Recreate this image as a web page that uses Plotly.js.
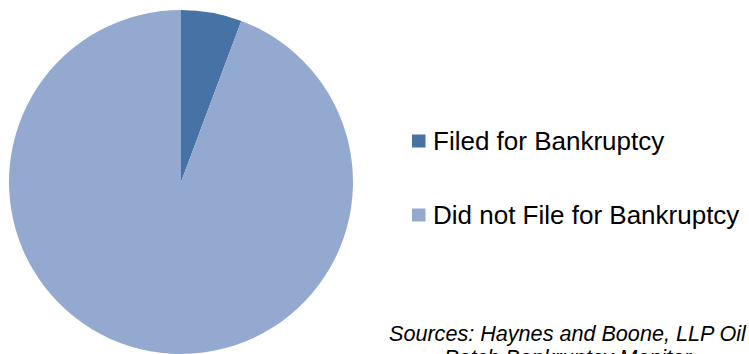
<!DOCTYPE html>
<html>
<head>
<meta charset="utf-8">
<script src="https://cdn.plot.ly/plotly-3.0.1.min.js"></script>
<style>html,body{margin:0;padding:0;background:#fff;}#chart{width:749px;height:354px;}</style>
</head>
<body>
<div id="chart"></div>
<script>
const labels = ["Filed for Bankruptcy", "Did not File for Bankruptcy"];
const values = [5.7, 94.3];
const colors = ["#4672A6", "#94A9CF"];
const sourceLines = ["Sources: Haynes and Boone, LLP Oil", "Patch Bankruptcy Monitor"];

const W = 749, H = 354;
const px = x => x / W;
const py = y => (H - y) / H;

const legendRowsY = [141, 215];
const sourceRowsY = [333, 357];
const shapes = labels.map((l, i) => ({
  type: "rect", xref: "paper", yref: "paper",
  x0: px(412), x1: px(425.5),
  y0: py(legendRowsY[i] - 6.5), y1: py(legendRowsY[i] + 6.5),
  fillcolor: colors[i], line: {width: 0}
}));
const annotations = labels.map((l, i) => ({
  text: l, xref: "paper", yref: "paper",
  x: px(431), y: py(legendRowsY[i]), xanchor: "left", yanchor: "middle",
  showarrow: false, font: {family: "Liberation Sans, Arial, sans-serif", size: 26, color: "#000"}
}));
sourceLines.forEach((s, i) => annotations.push({
  text: "<i>" + s + "</i>", xref: "paper", yref: "paper",
  x: px(568), y: py(sourceRowsY[i]), xanchor: "center", yanchor: "middle", align: "center",
  showarrow: false, font: {family: "Liberation Sans, Arial, sans-serif", size: 21.6, color: "#000"}
}));

const data = [{
  type: "pie",
  labels: labels,
  values: values,
  sort: false,
  direction: "clockwise",
  rotation: 0,
  textinfo: "none",
  hoverinfo: "label+percent",
  marker: {colors: colors, line: {width: 0}},
  domain: {x: [px(9), px(353)], y: [0, py(10)]},
  showlegend: false
}];

const layout = {
  width: W, height: H,
  margin: {l: 0, r: 0, t: 0, b: 0},
  paper_bgcolor: "#fff",
  showlegend: false,
  shapes: shapes,
  annotations: annotations
};
Plotly.newPlot("chart", data, layout, {displayModeBar: false, staticPlot: true});
</script>
</body>
</html>
